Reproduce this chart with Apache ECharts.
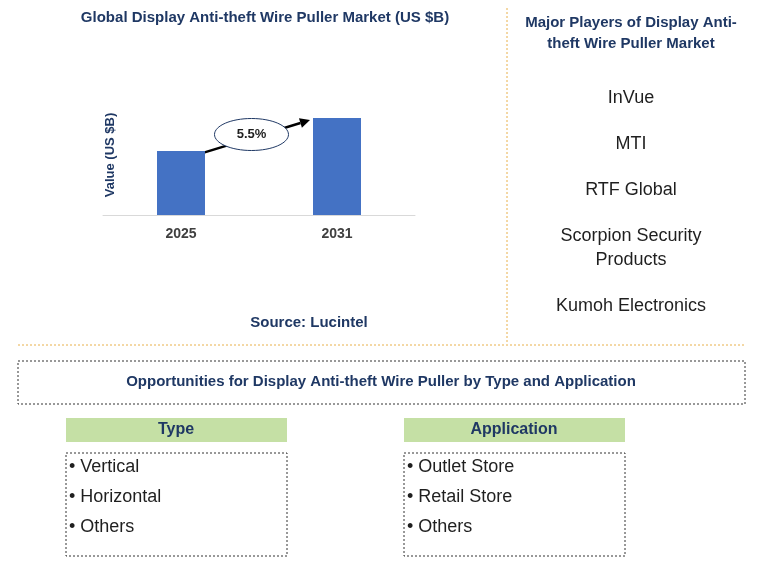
<!DOCTYPE html>
<html><head><meta charset="utf-8">
<script src="https://cdn.jsdelivr.net/npm/echarts@6/dist/echarts.min.js"></script>
<style>html,body{margin:0;padding:0;background:#fff}#c{width:760px;height:577px}</style>
</head><body><div id="c"></div>
<script>
const categories = ['2025', '2031'];
const values = [1.95, 2.95];
const cagrLabel = '5.5%';
const players = ['InVue', 'MTI', 'RTF Global', 'Scorpion Security\nProducts', 'Kumoh Electronics'];
const types = ['• Vertical', '• Horizontal', '• Others'];
const apps = ['• Outlet Store', '• Retail Store', '• Others'];

const chart = echarts.init(document.getElementById('c'));
const F = 'Arial, "Liberation Sans", sans-serif';
const navy = '#1F3864';
function txt(x, y, t, o) {
  return Object.assign({type:'text', x, y, style:Object.assign({text:t, font:'16px '+F, fill:'#1f1f1f', align:'center', verticalAlign:'middle'}, o||{})});
}
const g = [];
g.push(txt(265, 18, 'Global Display Anti-theft Wire Puller Market (US $B)', {font:'bold 15px '+F, fill:navy}));
g.push(txt(309, 323, 'Source: Lucintel', {font:'bold 15px '+F, fill:navy}));
g.push(txt(631, 33, 'Major Players of Display Anti-\ntheft Wire Puller Market', {font:'bold 15px '+F, fill:navy, lineHeight:21}));
g.push({type:'text', x:110, y:155, rotation:Math.PI/2, style:{text:'Value (US $B)', font:'bold 13px '+F, fill:navy, align:'center', verticalAlign:'middle'}});
const py = [98, 144, 190, 248, 306];
players.forEach((p,i)=>g.push(txt(631, py[i], p, {font:'18px '+F, lineHeight:24})));
g.push({type:'line', shape:{x1:507,y1:8,x2:507,y2:342}, style:{stroke:'#E8B04A', lineDash:[2,2], lineWidth:1}});
g.push({type:'line', shape:{x1:18,y1:345,x2:745,y2:345}, style:{stroke:'#E8B04A', lineDash:[2,2], lineWidth:1}});
g.push({type:'rect', shape:{x:18,y:361,width:727,height:43}, style:{fill:'none', stroke:'#333', lineDash:[2,2], lineWidth:1}});
g.push(txt(381, 382, 'Opportunities for Display Anti-theft Wire Puller by Type and Application', {font:'bold 15px '+F, fill:navy}));
[[66,'Type',types],[404,'Application',apps]].forEach(([x,h,items])=>{
  g.push({type:'rect', shape:{x:x,y:418,width:221,height:24}, style:{fill:'#C5E0A5'}});
  g.push(txt(x+110, 430, h, {font:'bold 16px '+F, fill:navy}));
  g.push({type:'rect', shape:{x:x,y:453,width:221,height:103}, style:{fill:'none', stroke:'#333', lineDash:[2,2], lineWidth:1}});
  items.forEach((t,i)=>g.push(txt(x+3, 467+i*30, t, {align:'left', font:'18px '+F})));
});
chart.setOption({
  animation:false,
  grid:{left:103, right:345, top:100, bottom:362},
  xAxis:{type:'category', data:categories, axisTick:{show:false},
    axisLine:{lineStyle:{color:'#d9d9d9'}},
    axisLabel:{color:'#404040', fontWeight:'bold', fontSize:14, fontFamily:F, margin:12}},
  yAxis:{type:'value', min:0, max:3.5, show:true, axisLine:{show:false}, axisTick:{show:false}, axisLabel:{show:false}, splitLine:{show:false}},
  series:[{type:'bar', data:values, barWidth:48, itemStyle:{color:'#4472C4'}}],
  graphic:g
});
const p1 = chart.convertToPixel({gridIndex:0}, [0, values[0]]);
const p2 = chart.convertToPixel({gridIndex:0}, [1, values[1]]);
const x1 = p1[0]+22, y1 = p1[1]+2, x2 = p2[0]-27, y2 = p2[1]+2;
const ang = Math.atan2(y2-y1, x2-x1), L=10, W=5;
const bx = x2 - L*Math.cos(ang), by = y2 - L*Math.sin(ang);
const mx = (x1+x2)/2, my = (y1+y2)/2;
g.push({type:'line', shape:{x1,y1,x2:bx,y2:by}, style:{stroke:'#000', lineWidth:2.5}});
g.push({type:'polygon', shape:{points:[[x2,y2],[bx-W*Math.sin(ang),by+W*Math.cos(ang)],[bx+W*Math.sin(ang),by-W*Math.cos(ang)]]}, style:{fill:'#000'}});
g.push({type:'ellipse', shape:{cx:mx-5, cy:my-2, rx:37, ry:16}, style:{fill:'#fff', stroke:'#1F3864', lineWidth:1}});
g.push(txt(mx-5, my-2, cagrLabel, {font:'bold 13px '+F, fill:'#1f1f1f'}));
chart.setOption({graphic:g});
</script></body></html>
